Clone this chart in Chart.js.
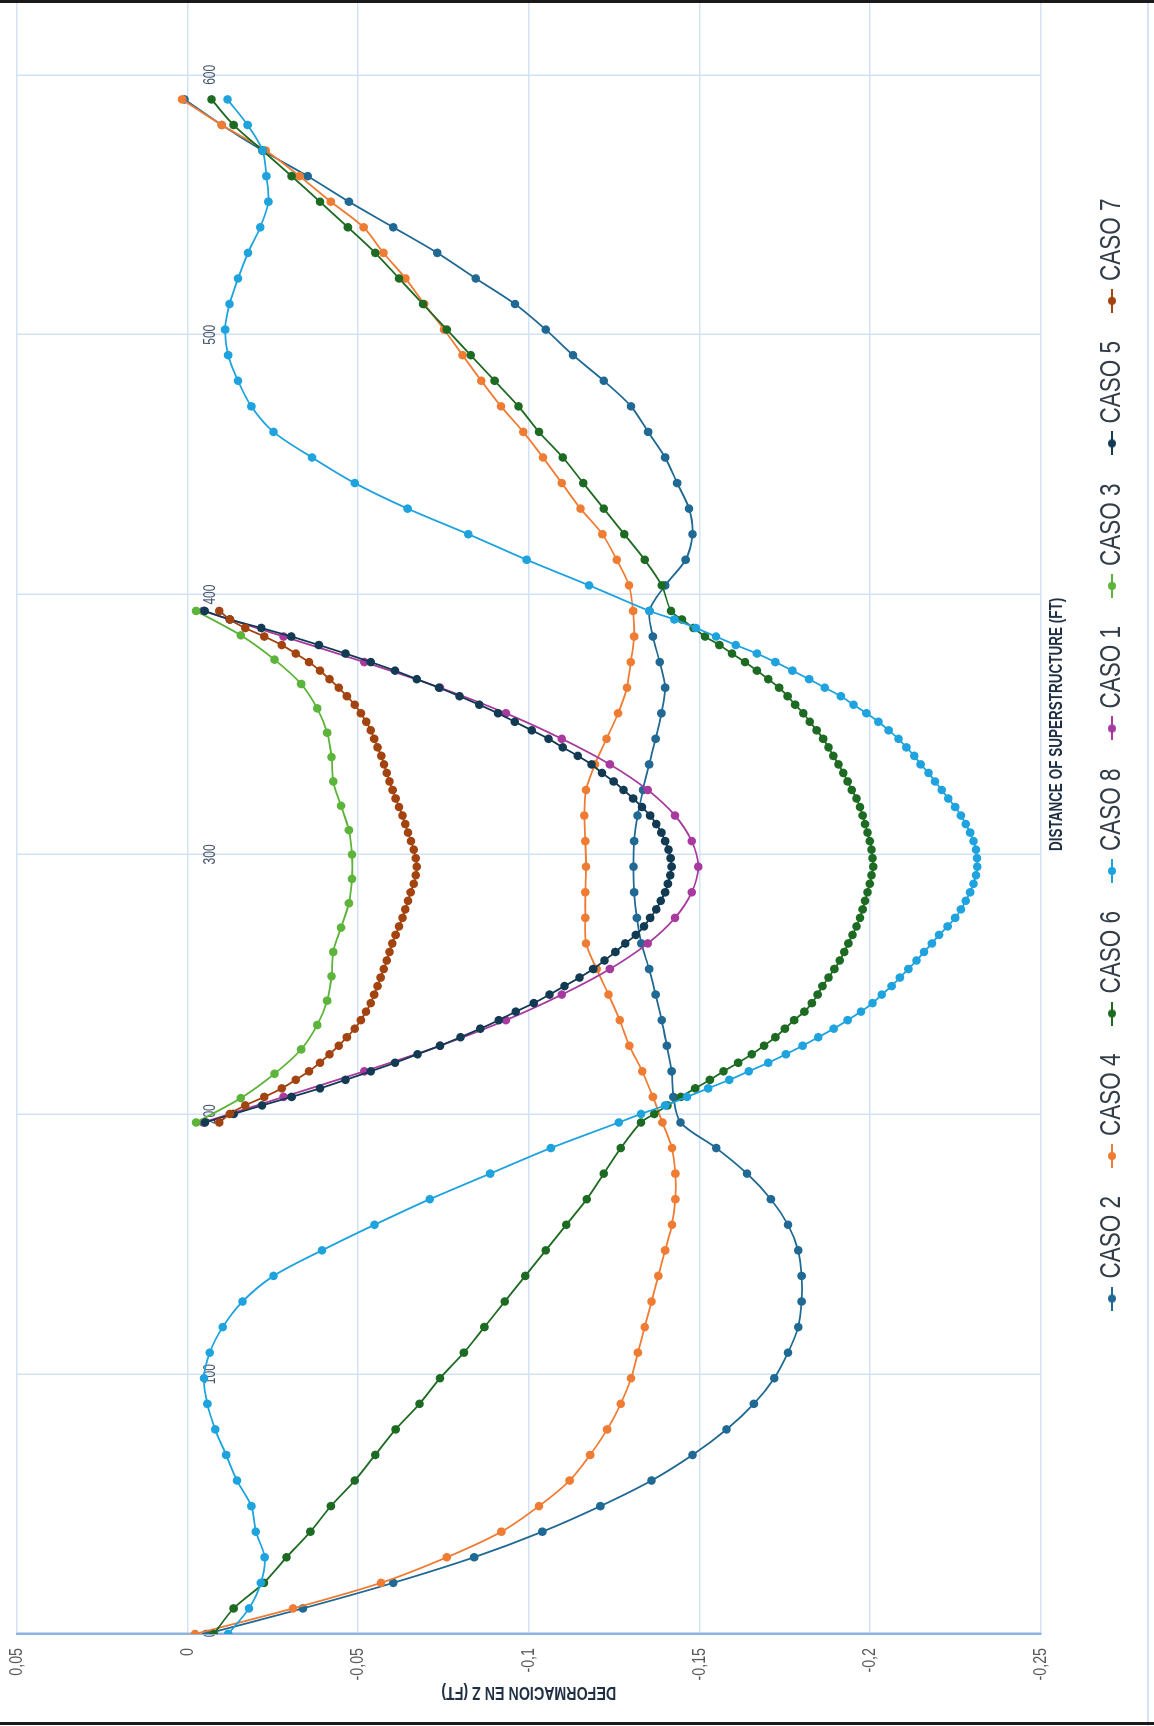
<!DOCTYPE html>
<html>
<head>
<meta charset="utf-8">
<script src="https://cdn.jsdelivr.net/npm/chart.js@4.4.1/dist/chart.umd.min.js"></script>
<style>
    html, body { margin: 0; padding: 0; background: #fff; }
    #page { position: relative; width: 1154px; height: 1726px; overflow: hidden; background: #fff; }
    /* chart is laid out landscape and turned a quarter turn to stand upright */
    #frame {
        position: absolute; left: 0; top: 0;
        width: 1726px; height: 1154px; overflow: hidden;
        transform-origin: 0 0;
        transform: translate(0, 1726px) rotate(-90deg);
    }
    #frame canvas { display: block; }
    .rule { position: absolute; left: 0; width: 1154px; height: 3px; background: #1a1a1a; }
    .edge { position: absolute; top: 0; left: 1147px; width: 2px; height: 1726px; background: #d7e3f4; }
</style>
</head>
<body>
<div id="page">
    <div id="frame"><canvas id="deformacion" width="1950" height="1154"></canvas></div>
    <div class="edge"></div>
    <div class="rule" style="top:0"></div>
    <div class="rule" style="top:1722px"></div>
</div>
<script>
// stations along the deck (ft)
const span1Stations = [0, 9.84, 19.69, 29.53, 39.37, 49.21, 59.06, 68.90, 78.74, 88.58,
    98.43, 108.27, 118.11, 127.95, 137.80, 147.64, 157.48, 167.32, 177.17, 187.01];
const span2Stations = [196.85, 206.69, 216.54, 226.38, 236.22, 246.06, 255.91, 265.75, 275.59, 285.43,
    295.28, 305.12, 314.96, 324.80, 334.65, 344.49, 354.33, 364.17, 374.02, 383.86, 393.70];
const span2StationsCaso3 = [196.85, 206.22, 215.60, 224.97, 234.35, 243.72, 253.10, 262.47, 271.84, 281.22, 290.59,
    299.97, 309.34, 318.72, 328.09, 337.46, 346.84, 356.21, 365.59, 374.96, 384.33, 393.70];
const span2StationsFine = [196.85, 200.13, 203.41, 206.69, 209.97, 213.25, 216.54, 219.82, 223.10, 226.38,
    229.66, 232.94, 236.22, 239.50, 242.78, 246.06, 249.34, 252.62, 255.91, 259.19,
    262.47, 265.75, 269.03, 272.31, 275.59, 278.87, 282.15, 285.43, 288.71, 291.99,
    295.28, 298.56, 301.84, 305.12, 308.40, 311.68, 314.96, 318.24, 321.52, 324.80,
    328.08, 331.36, 334.65, 337.93, 341.21, 344.49, 347.77, 351.05, 354.33, 357.61,
    360.89, 364.17, 367.45, 370.73, 374.02, 377.30, 380.58, 383.86, 387.14, 390.42, 393.70];
const span3Stations = [403.54, 413.39, 423.23, 433.07, 442.91, 452.76, 462.60, 472.44, 482.28, 492.13,
    501.97, 511.81, 521.65, 531.50, 541.34, 551.18, 561.02, 570.87, 580.71, 590.55];

// deformation in Z (ft)
const caso2Span1 = [-0.0054, -0.0338, -0.0603, -0.084, -0.104, -0.121, -0.136, -0.148, -0.158, -0.166,
    -0.172, -0.176, -0.179, -0.180, -0.180, -0.179, -0.176, -0.171, -0.164, -0.155];
const caso2Span2 = [-0.1445, -0.1424, -0.1419, -0.1405, -0.1390, -0.1372, -0.1353, -0.1330, -0.1317, -0.1309,
    -0.1307, -0.1309, -0.1319, -0.1335, -0.1353, -0.1372, -0.1389, -0.1400, -0.1384, -0.1364, -0.1354];
const caso2Span3 = [-0.140, -0.146, -0.148, -0.147, -0.1435, -0.140, -0.135, -0.130, -0.122, -0.113,
    -0.105, -0.096, -0.0845, -0.0732, -0.0603, -0.0473, -0.0352, -0.022, -0.010, 0.0009];

const caso4Span1 = [-0.0022, -0.0309, -0.0567, -0.076, -0.092, -0.103, -0.112, -0.118, -0.123, -0.127,
    -0.130, -0.132, -0.134, -0.136, -0.138, -0.140, -0.142, -0.143, -0.143, -0.142];
const caso4Span2 = [-0.1392, -0.1364, -0.1333, -0.1295, -0.1267, -0.1234, -0.1199, -0.1168, -0.1166, -0.1166,
    -0.1168, -0.1166, -0.1163, -0.1168, -0.1194, -0.1228, -0.1262, -0.1288, -0.1299, -0.1309, -0.1306];
const caso4Span3 = [-0.1294, -0.1258, -0.1216, -0.1152, -0.1097, -0.1042, -0.0984, -0.0919, -0.0861, -0.0806,
    -0.0752, -0.0694, -0.0639, -0.0574, -0.0516, -0.042, -0.0328, -0.0229, -0.0100, 0.0016];

const caso6Span1 = [-0.0077, -0.0135, -0.0224, -0.029, -0.036, -0.042, -0.049, -0.055, -0.061, -0.068,
    -0.074, -0.081, -0.087, -0.093, -0.099, -0.105, -0.111, -0.117, -0.122, -0.127];
const caso6Span2 = [-0.1329, -0.1368, -0.1407, -0.1446, -0.1488, -0.1531, -0.1571, -0.1614, -0.1654, -0.1690,
    -0.1723, -0.1751, -0.1778, -0.1808, -0.1830, -0.1847, -0.1861, -0.1879, -0.1896, -0.1912,
    -0.1925, -0.1937, -0.1949, -0.1961, -0.1971, -0.1979, -0.1986, -0.1993, -0.2000, -0.2005,
    -0.2010, -0.2008, -0.2005, -0.2000, -0.1993, -0.1986, -0.1979, -0.1971, -0.1961, -0.1947,
    -0.1935, -0.1922, -0.1908, -0.1893, -0.1879, -0.1863, -0.1844, -0.1824, -0.1805, -0.1781,
    -0.1759, -0.1734, -0.1702, -0.1669, -0.1634, -0.1596, -0.1559, -0.1517, -0.1483, -0.1449, -0.1417];
const caso6Span3 = [-0.139, -0.134, -0.128, -0.122, -0.116, -0.110, -0.103, -0.097, -0.090, -0.083,
    -0.076, -0.069, -0.062, -0.055, -0.047, -0.0388, -0.0305, -0.022, -0.0135, -0.007];

const caso8Span1 = [-0.0119, -0.018, -0.0215, -0.0226, -0.020, -0.0187, -0.0145, -0.0113, -0.0081, -0.0058,
    -0.0048, -0.0065, -0.0103, -0.0161, -0.0252, -0.0394, -0.0548, -0.071, -0.0887, -0.1065];
const caso8Span2 = [-0.1264, -0.1329, -0.1400, -0.1464, -0.1526, -0.1588, -0.1645, -0.1702, -0.1754, -0.1803,
    -0.1849, -0.1894, -0.1935, -0.1974, -0.2008, -0.2035, -0.2064, -0.2088, -0.2113, -0.2137,
    -0.2159, -0.2182, -0.2203, -0.2228, -0.2250, -0.2267, -0.2281, -0.2294, -0.2304, -0.2311,
    -0.2315, -0.2314, -0.2311, -0.2304, -0.2294, -0.2281, -0.2267, -0.2250, -0.2230, -0.2211,
    -0.2191, -0.2172, -0.2149, -0.2130, -0.2107, -0.2084, -0.2055, -0.2025, -0.1990, -0.1952,
    -0.1915, -0.1868, -0.1822, -0.1773, -0.1723, -0.1669, -0.1607, -0.1549, -0.1490, -0.1427, -0.1354];
const caso8Span3 = [-0.1177, -0.0994, -0.0823, -0.0645, -0.049, -0.0365, -0.0252, -0.0187, -0.0148, -0.0119,
    -0.011, -0.0123, -0.0148, -0.0177, -0.0213, -0.0237, -0.0231, -0.022, -0.0176, -0.0117];

const caso1Span2 = [-0.0046, -0.0281, -0.0518, -0.0740, -0.0933, -0.1097, -0.1238, -0.1349, -0.1429, -0.1478,
    -0.1497, -0.1478, -0.1429, -0.1349, -0.1238, -0.1097, -0.0933, -0.0740, -0.0518, -0.0281, -0.0046];
const caso3Span2 = [-0.0025, -0.0156, -0.0255, -0.0333, -0.0380, -0.0409, -0.0422, -0.0427, -0.0450, -0.0473, -0.0482,
    -0.0482, -0.0473, -0.0450, -0.0427, -0.0422, -0.0409, -0.0380, -0.0333, -0.0255, -0.0156, -0.0025];
const caso5Span2 = [-0.0051, -0.0135, -0.0218, -0.0305, -0.0388, -0.0463, -0.0537, -0.0608, -0.0674, -0.0740,
    -0.0800, -0.0858, -0.0912, -0.0962, -0.1015, -0.1061, -0.1105, -0.1149, -0.1189, -0.1222,
    -0.1254, -0.1283, -0.1314, -0.1338, -0.1356, -0.1374, -0.1387, -0.1400, -0.1408, -0.1415,
    -0.1419, -0.1416, -0.1410, -0.1400, -0.1389, -0.1374, -0.1356, -0.1332, -0.1306, -0.1278,
    -0.1249, -0.1215, -0.1184, -0.1144, -0.1100, -0.1058, -0.1009, -0.0959, -0.0910, -0.0855,
    -0.0797, -0.0737, -0.0672, -0.0608, -0.0537, -0.0463, -0.0385, -0.0304, -0.0216, -0.0124, -0.0050];
const caso7Span2 = [-0.0093, -0.0124, -0.0169, -0.0225, -0.0276, -0.0317, -0.0356, -0.0388, -0.0416, -0.0443,
    -0.0467, -0.0490, -0.0508, -0.0523, -0.0537, -0.0547, -0.0557, -0.0566, -0.0575, -0.0584,
    -0.0592, -0.0600, -0.0610, -0.0620, -0.0630, -0.0638, -0.0646, -0.0654, -0.0663, -0.0669,
    -0.0672, -0.0669, -0.0663, -0.0655, -0.0646, -0.0638, -0.0630, -0.0620, -0.0610, -0.0601,
    -0.0592, -0.0584, -0.0576, -0.0568, -0.0557, -0.0547, -0.0537, -0.0524, -0.0508, -0.0490,
    -0.0467, -0.0443, -0.0416, -0.0388, -0.0356, -0.0317, -0.0276, -0.0225, -0.0169, -0.0124, -0.0093];

const FONT = "'Liberation Sans', Arial, sans-serif";
const GRID = '#d3e2f5';
const TEXT_SQUEEZE = 0.75;

function pts(stations, values) {
    return stations.map((x, i) => ({ x: x, y: values[i] }));
}

// no narrow face is installed, so squeeze every glyph run along its baseline
function squeezeText(ctx, k) {
    const rawFill = ctx.fillText.bind(ctx);
    const rawMeasure = ctx.measureText.bind(ctx);
    ctx.fillText = function (text, x, y) {
        ctx.save();
        ctx.translate(x, y);
        ctx.scale(k, 1);
        rawFill(text, 0, 0);
        ctx.restore();
    };
    ctx.measureText = function (text) {
        const m = rawMeasure(text);
        return {
            width: m.width * k,
            actualBoundingBoxAscent: m.actualBoundingBoxAscent,
            actualBoundingBoxDescent: m.actualBoundingBoxDescent
        };
    };
}

// little line-with-dot swatch for the legend
function legendMarker(color) {
    let c = document.createElement('canvas');
    c.width = 24;
    c.height = 10;
    let g = c.getContext('2d');
    g.strokeStyle = color;
    g.lineWidth = 2;
    g.beginPath();
    g.moveTo(0, 5);
    g.lineTo(24, 5);
    g.stroke();
    g.fillStyle = color;
    g.beginPath();
    g.arc(12, 5, 4, 0, Math.PI * 2);
    g.fill();
    return c;
}

let series = [
    { label: 'CASO 2', color: '#1f6994', data: pts(span1Stations, caso2Span1).concat(pts(span2Stations, caso2Span2), pts(span3Stations, caso2Span3)) },
    { label: 'CASO 4', color: '#f07c33', data: pts(span1Stations, caso4Span1).concat(pts(span2Stations, caso4Span2), pts(span3Stations, caso4Span3)) },
    { label: 'CASO 6', color: '#1d6b22', data: pts(span1Stations, caso6Span1).concat(pts(span2StationsFine, caso6Span2), pts(span3Stations, caso6Span3)) },
    { label: 'CASO 8', color: '#1ea3df', data: pts(span1Stations, caso8Span1).concat(pts(span2StationsFine, caso8Span2), pts(span3Stations, caso8Span3)) },
    { label: 'CASO 1', color: '#a7399f', data: pts(span2Stations, caso1Span2) },
    { label: 'CASO 3', color: '#5cb43a', data: pts(span2StationsCaso3, caso3Span2) },
    { label: 'CASO 5', color: '#123a52', data: pts(span2StationsFine, caso5Span2) },
    { label: 'CASO 7', color: '#a3430f', data: pts(span2StationsFine, caso7Span2) },
];

let datasets = series.map((s, i) => ({
    label: s.label,
    data: s.data,
    borderColor: s.color,
    backgroundColor: s.color,
    pointBackgroundColor: s.color,
    pointBorderWidth: 0,
    pointRadius: 4.3,
    borderWidth: 1.8,
    tension: 0.3,
    fill: false,
    order: -i
}));

const canvas = document.getElementById('deformacion');
squeezeText(canvas.getContext('2d'), TEXT_SQUEEZE);

new Chart(canvas, {
    type: 'line',
    data: { datasets: datasets },
    options: {
        responsive: false,
        animation: false,
        layout: { padding: { top: 17, left: 0, right: 0, bottom: 17 } },
        plugins: {
            tooltip: { enabled: false },
            legend: {
                position: 'bottom',
                labels: {
                    usePointStyle: true,
                    pointStyleWidth: 10,
                    padding: 35,
                    color: '#333d48',
                    font: { family: FONT, size: 30 },
                    sort: (a, b) => a.datasetIndex - b.datasetIndex,
                    generateLabels(chart) {
                        let items = Chart.defaults.plugins.legend.labels.generateLabels(chart);
                        items.forEach(item => {
                            item.pointStyle = legendMarker(chart.data.datasets[item.datasetIndex].borderColor);
                        });
                        return items;
                    }
                }
            }
        },
        scales: {
            x: {
                type: 'linear',
                min: 0,
                max: 700,
                position: { y: 0 },
                grid: { color: GRID, lineWidth: 1.5, drawTicks: false },
                border: { display: false },
                ticks: {
                    stepSize: 100,
                    padding: 13,
                    color: '#44546a',
                    font: { family: FONT, size: 16 }
                }
            },
            // carries the distance title under the plot
            x2: {
                type: 'linear',
                min: 0,
                max: 700,
                position: 'bottom',
                grid: { display: false, drawTicks: false },
                border: { display: false },
                ticks: { display: false },
                title: {
                    display: true,
                    text: 'DISTANCE OF SUPERSTRUCTURE (FT)',
                    color: '#1f2f44',
                    font: { family: FONT, size: 18, weight: 'bold' },
                    padding: { top: 6, bottom: -6 }
                }
            },
            y: {
                min: -0.25,
                max: 0.05,
                grid: { color: GRID, lineWidth: 1.5, drawTicks: false },
                border: { color: '#8fb3e0', width: 2.5 },
                ticks: {
                    stepSize: 0.05,
                    padding: 14,
                    color: '#595959',
                    font: { family: FONT, size: 19 },
                    callback: v => String(Math.round(v * 100) / 100).replace('.', ',')
                },
                title: {
                    display: true,
                    text: 'DEFORMACION EN Z (FT)',
                    color: '#1f2f44',
                    font: { family: FONT, size: 19, weight: 'bold' },
                    padding: { top: 22, bottom: 0 }
                },
                afterFit(scale) {
                    scale.width = 92;
                    scale.paddingTop = 0;
                    scale.paddingBottom = 0;
                }
            },
            y2: {
                position: 'right',
                grid: { display: false, drawTicks: false },
                border: { display: false },
                ticks: { display: false },
                afterFit(scale) { scale.width = 39; }
            }
        }
    }
});
</script>
</body>
</html>
